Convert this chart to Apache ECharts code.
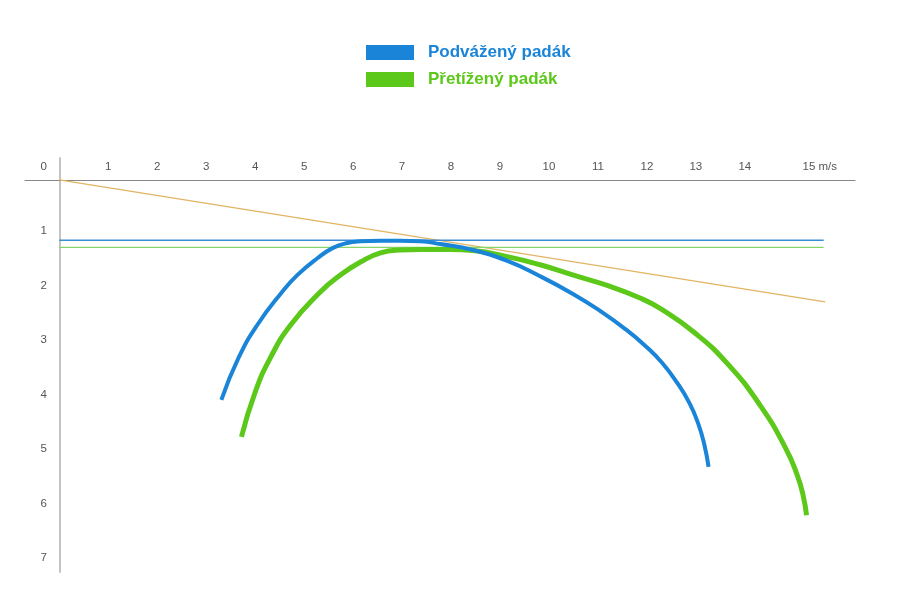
<!DOCTYPE html>
<html>
<head>
<meta charset="utf-8">
<script src="https://cdn.jsdelivr.net/npm/echarts@6/dist/echarts.min.js"></script>
<style>html,body{margin:0;padding:0;background:#fff}#c{width:900px;height:600px}</style>
</head>
<body>
<div id="c"></div>
<script>
// speed (m/s) ticks and sink (m/s) ticks
const xTicks = [1,2,3,4,5,6,7,8,9,10,11,12,13,14,15];
const yTicks = [0,1,2,3,4,5,6,7];
const seriesNames = ['Podvážený padák', 'Přetížený padák'];

// polar curves: [speed, sink]
const blueSpeed = [3.31,3.66,4.04,4.55,4.86,5.27,5.59,5.88,6.15,6.56,6.96,7.37,7.78,8.45,9.15,9.82,10.50,11.05,11.56,11.97,12.31,12.62,12.87,13.05,13.17,13.26];
const blueSink  = [4.04,3.27,2.67,2.06,1.75,1.44,1.25,1.16,1.13,1.12,1.12,1.13,1.18,1.29,1.49,1.77,2.10,2.41,2.74,3.05,3.36,3.73,4.10,4.48,4.85,5.27];
const greenSpeed = [3.72,4.00,4.31,4.72,5.33,5.74,6.15,6.56,6.96,7.37,7.98,8.45,9.15,9.82,10.50,11.19,11.86,12.27,12.95,13.64,14.32,14.83,15.07,15.19,15.26];
const greenSink  = [4.72,3.90,3.27,2.67,2.06,1.75,1.51,1.34,1.29,1.28,1.28,1.30,1.41,1.56,1.75,1.94,2.17,2.36,2.79,3.37,4.15,4.92,5.42,5.79,6.16];

// reference lines
const glideSpeed = [0, 15.64];
const glideSink  = [0, 2.24];
const minSinkBlue = 1.11;
const minSinkGreen = 1.24;
const refLineEnd = 15.61;

const zip = (a, b) => a.map((v, i) => [v, b[i]]);
const C_BLUE = '#1a85d8', C_GREEN = '#5cc81a';
const font = 'Arial, "Liberation Sans", sans-serif';

const chart = echarts.init(document.getElementById('c'), null, {renderer: 'canvas'});
chart.setOption({
  animation: false,
  backgroundColor: '#ffffff',
  grid: {left: 25, right: 45, top: 158, bottom: 28, containLabel: false, outerBoundsMode: 'none'},
  legend: {
    left: 366, top: 44, orient: 'vertical', icon: 'rect', padding: 0,
    itemWidth: 48, itemHeight: 15, itemGap: 10, selectedMode: false,
    data: [
      {name: seriesNames[0], textStyle: {color: C_BLUE}},
      {name: seriesNames[1], textStyle: {color: C_GREEN}}
    ],
    textStyle: {fontSize: 17, fontWeight: 'bold', fontFamily: font, padding: [0,0,0,9]}
  },
  xAxis: {
    type: 'value', position: 'top', min: -0.7, max: 16.25,
    axisLine: {onZero: true, lineStyle: {color: '#888888', width: 1}},
    axisTick: {show: false},
    splitLine: {show: false},
    axisLabel: {
      customValues: xTicks, margin: -15, color: '#555', fontSize: 11.5, fontFamily: font,
      formatter: v => v === 15 ? '{u|15 m/s}' : String(v),
      rich: {u: {padding: [0,0,0,52], fontSize: 11.5, color: '#555', fontFamily: font}}
    }
  },
  yAxis: {
    type: 'value', inverse: true, min: -0.4, max: 7.2,
    axisLine: {onZero: true, lineStyle: {color: '#c4c4c4', width: 2}},
    axisTick: {show: false},
    splitLine: {show: false},
    axisLabel: {
      customValues: yTicks, margin: -22, color: '#555', fontSize: 11.5, fontFamily: font,
      formatter: v => v === 0 ? '{z|0}' : '{n|' + v + '}',
      rich: {
        z: {padding: [0,0,26,0], fontSize: 11.5, color: '#555', fontFamily: font},
        n: {padding: [0,0,6,0], fontSize: 11.5, color: '#555', fontFamily: font}
      }
    }
  },
  series: [
    {name: 'glide', type: 'line', data: zip(glideSpeed, glideSink), showSymbol: false, silent: true,
     lineStyle: {color: '#e2b463', width: 1.2}},
    {name: 'minBlue', type: 'line', data: [[0, minSinkBlue], [refLineEnd, minSinkBlue]], showSymbol: false, silent: true,
     lineStyle: {color: '#3a8ed8', width: 1.3}},
    {name: 'minGreen', type: 'line', data: [[0, minSinkGreen], [refLineEnd, minSinkGreen]], showSymbol: false, silent: true,
     lineStyle: {color: '#86d46c', width: 1.3}},
    {name: seriesNames[1], type: 'line', data: zip(greenSpeed, greenSink), showSymbol: false,
     smooth: 0.5, itemStyle: {color: C_GREEN}, lineStyle: {color: C_GREEN, width: 5}},
    {name: seriesNames[0], type: 'line', data: zip(blueSpeed, blueSink), showSymbol: false,
     smooth: 0.5, itemStyle: {color: C_BLUE}, lineStyle: {color: C_BLUE, width: 4}}
  ]
});
</script>
</body>
</html>
